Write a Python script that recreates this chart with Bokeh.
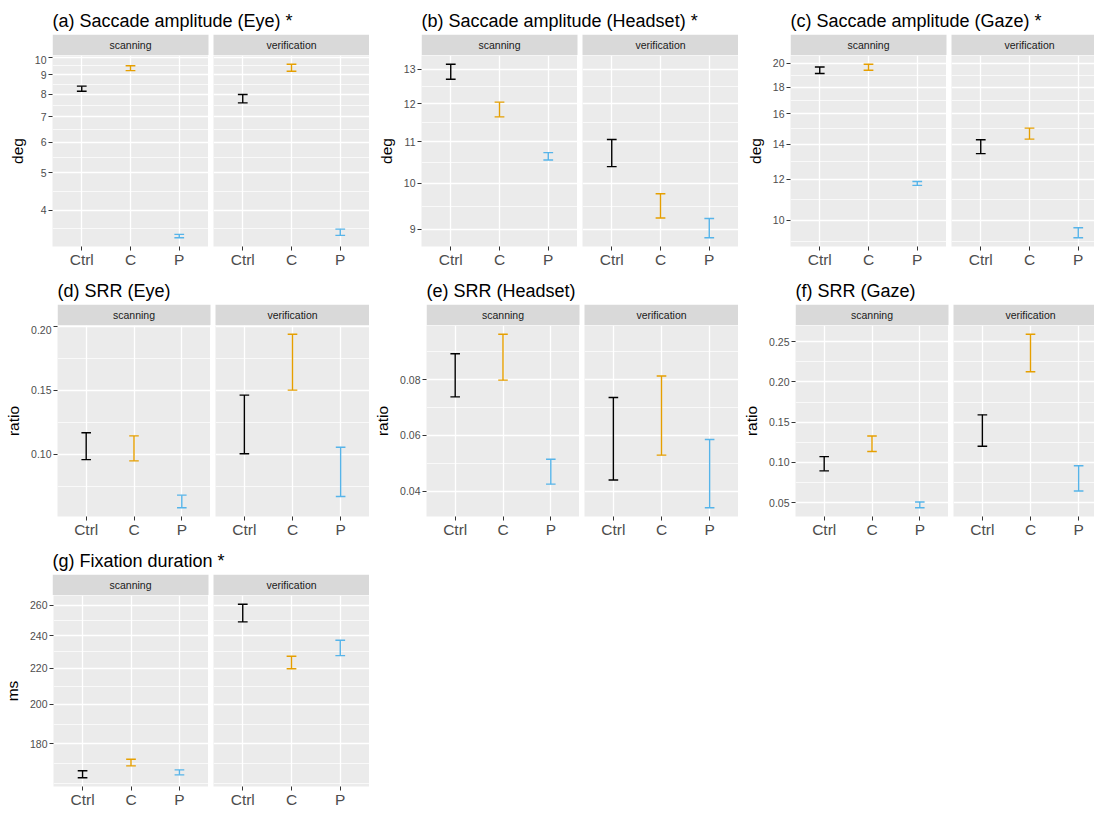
import math
from bokeh.plotting import figure
from bokeh.layouts import column, row
from bokeh.models import Range1d, FixedTicker, BasicTickFormatter
from bokeh.core.properties import value
from bokeh.embed import file_html
from bokeh.resources import INLINE

FONT = "Liberation Sans"

# ---------------- data ----------------
groups = ["Ctrl", "C", "P"]
phases = ["scanning", "verification"]
group_colors = ["#000000", "#E69F00", "#56B4E9"]

# (a) Saccade amplitude (Eye) [deg]
sacc_eye_scan_lo = [8.15, 9.22, 3.39]
sacc_eye_scan_hi = [8.40, 9.49, 3.46]
sacc_eye_ver_lo = [7.60, 9.18, 3.44]
sacc_eye_ver_hi = [7.99, 9.58, 3.57]
sacc_eye_ticks = [4, 5, 6, 7, 8, 9, 10]
sacc_eye_labels = ["4", "5", "6", "7", "8", "9", "10"]

# (b) Saccade amplitude (Headset) [deg]
sacc_head_scan_lo = [12.70, 11.65, 10.55]
sacc_head_scan_hi = [13.15, 12.05, 10.73]
sacc_head_ver_lo = [10.39, 9.23, 8.82]
sacc_head_ver_hi = [11.06, 9.76, 9.22]
sacc_head_ticks = [9, 10, 11, 12, 13]
sacc_head_labels = ["9", "10", "11", "12", "13"]

# (c) Saccade amplitude (Gaze) [deg]
sacc_gaze_scan_lo = [19.11, 19.38, 11.67]
sacc_gaze_scan_hi = [19.66, 19.91, 11.87]
sacc_gaze_ver_lo = [13.42, 14.31, 9.26]
sacc_gaze_ver_hi = [14.27, 15.02, 9.68]
sacc_gaze_ticks = [10, 12, 14, 16, 18, 20]
sacc_gaze_labels = ["10", "12", "14", "16", "18", "20"]

# (d) SRR (Eye) [ratio]
srr_eye_scan_lo = [0.0957, 0.0947, 0.0580]
srr_eye_scan_hi = [0.1167, 0.1142, 0.0679]
srr_eye_ver_lo = [0.1003, 0.1500, 0.0669]
srr_eye_ver_hi = [0.1461, 0.1937, 0.1053]
srr_eye_ticks = [0.10, 0.15, 0.20]
srr_eye_labels = ["0.10", "0.15", "0.20"]

# (e) SRR (Headset) [ratio]
srr_head_scan_lo = [0.0738, 0.0798, 0.0425]
srr_head_scan_hi = [0.0893, 0.0963, 0.0514]
srr_head_ver_lo = [0.0440, 0.0529, 0.0340]
srr_head_ver_hi = [0.0736, 0.0813, 0.0585]
srr_head_ticks = [0.04, 0.06, 0.08]
srr_head_labels = ["0.04", "0.06", "0.08"]

# (f) SRR (Gaze) [ratio]
srr_gaze_scan_lo = [0.0895, 0.1136, 0.0436]
srr_gaze_scan_hi = [0.1072, 0.1329, 0.0508]
srr_gaze_ver_lo = [0.1200, 0.2126, 0.0645]
srr_gaze_ver_hi = [0.1591, 0.2593, 0.0959]
srr_gaze_ticks = [0.05, 0.10, 0.15, 0.20, 0.25]
srr_gaze_labels = ["0.05", "0.10", "0.15", "0.20", "0.25"]

# (g) Fixation duration [ms]
fix_scan_lo = [164.5, 169.8, 165.8]
fix_scan_hi = [167.6, 172.8, 168.0]
fix_ver_lo = [248.9, 219.8, 227.6]
fix_ver_hi = [260.9, 227.2, 237.1]
fix_ticks = [180, 200, 220, 240, 260]
fix_labels = ["180", "200", "220", "240", "260"]

# ---------------- layout constants ----------------
TOP = 34      # title area above strip
STRIP = 21    # strip height
FRAME = 193   # panel height
BOTTOM = 22   # x-axis area
GAP = 5       # gap between facets
FULL = 369    # full width of a panel block
BG = "#EBEBEB"
STRIP_BG = "#D9D9D9"


def minor_breaks(majors_t, lo_t, hi_t):
    b = list(majors_t)
    bd = b[1] - b[0]
    if lo_t < b[0]:
        b = [b[0] - bd] + b
    if hi_t > b[-1]:
        b = b + [b[-1] + bd]
    out = []
    for a, c in zip(b[:-1], b[1:]):
        out += [a, (a + c) / 2]
    out.append(b[-1])
    res = []
    for v in out:
        if lo_t <= v <= hi_t and all(abs(v - m) > 1e-9 for m in majors_t):
            res.append(v)
    return res


def make_panel(title, ylabel, scan_lo, scan_hi, ver_lo, ver_hi, ticks, labels,
               log, block_w, left_w, precision):
    w1 = (FULL - left_w - GAP) // 2
    w2_full = FULL - left_w - GAP - w1
    w2 = block_w - left_w - GAP - w1
    x_end_ver = 0.4 + 3.2 * w2 / w2_full

    if log:
        tf = math.log10
        inv = lambda t: 10 ** t
    else:
        tf = lambda v: v
        inv = lambda t: t
    allv = [tf(v) for v in scan_lo + scan_hi + ver_lo + ver_hi]
    tmin, tmax = min(allv), max(allv)
    r = tmax - tmin
    lo_t, hi_t = tmin - 0.05 * r, tmax + 0.05 * r
    yr = Range1d(inv(lo_t), inv(hi_t))
    minors = [inv(t) for t in minor_breaks([tf(v) for v in ticks], lo_t, hi_t)]
    overrides = {float(t): lab for t, lab in zip(ticks, labels)}

    # header: title + strips
    hdr = figure(width=block_w, height=TOP + STRIP,
                 x_range=Range1d(0, block_w - left_w), y_range=Range1d(0, 1),
                 x_axis_location=None, y_axis_location=None,
                 toolbar_location=None, output_backend="svg",
                 min_border_left=left_w, min_border_right=0,
                 min_border_top=TOP, min_border_bottom=0, title=title)
    hdr.grid.visible = False
    hdr.outline_line_color = None
    hdr.background_fill_color = "white"
    hdr.border_fill_color = "white"
    hdr.title.text_font = FONT
    hdr.title.text_font_size = "18px"
    hdr.title.text_font_style = "normal"
    hdr.title.text_color = "black"
    hdr.title.align = "left"
    hdr.title.offset = 0
    hdr.title.standoff = 7
    hdr.quad(left=[0, w1 + GAP], right=[w1, w1 + GAP + w2_full],
             bottom=[0, 0], top=[1, 1], fill_color=STRIP_BG, line_color=None)
    hdr.text(x=[w1 / 2, w1 + GAP + w2_full / 2], y=[0.5, 0.5], text=phases,
             text_align="center", text_baseline="middle",
             text_font=value(FONT), text_font_size="10.5px", text_color="#1A1A1A")

    xs = list(range(1, len(groups) + 1))
    hw = 0.1

    def facet(lo, hi, x_end, w_frame, left_border, show_y):
        p = figure(width=left_border + w_frame, height=FRAME + BOTTOM,
                   x_range=Range1d(0.4, x_end), y_range=yr,
                   y_axis_type="log" if log else "linear",
                   x_axis_location="below",
                   y_axis_location="left" if show_y else None,
                   toolbar_location=None, output_backend="svg",
                   min_border_left=left_border, min_border_right=0,
                   min_border_top=0, min_border_bottom=BOTTOM)
        p.background_fill_color = BG
        p.border_fill_color = "white"
        p.outline_line_color = None
        # x axis
        p.xaxis.ticker = FixedTicker(ticks=xs)
        p.xaxis.major_label_overrides = {float(x): g for x, g in zip(xs, groups)}
        p.xaxis.major_label_text_font = FONT
        p.xaxis.major_label_text_font_size = "15.5px"
        p.xaxis.major_label_text_color = "#4D4D4D"
        p.xaxis.major_label_standoff = 0
        p.xaxis.major_tick_out = 4
        p.xaxis.major_tick_in = 0
        p.xaxis.major_tick_line_color = "#333333"
        p.xaxis.minor_tick_line_color = None
        p.xaxis.axis_line_color = None
        # y axis
        if show_y:
            p.yaxis.ticker = FixedTicker(ticks=ticks, minor_ticks=minors)
            p.yaxis.formatter = BasicTickFormatter(precision=precision)
            p.yaxis.major_label_overrides = overrides
            p.yaxis.major_label_text_font = FONT
            p.yaxis.major_label_text_font_size = "10.5px"
            p.yaxis.major_label_text_color = "#4D4D4D"
            p.yaxis.major_label_standoff = 2
            p.yaxis.major_tick_out = 4
            p.yaxis.major_tick_in = 0
            p.yaxis.major_tick_line_color = "#333333"
            p.yaxis.minor_tick_line_color = None
            p.yaxis.axis_line_color = None
            p.yaxis.axis_label = ylabel
            p.yaxis.axis_label_text_font = FONT
            p.yaxis.axis_label_text_font_size = "15.5px"
            p.yaxis.axis_label_text_font_style = "normal"
            p.yaxis.axis_label_text_color = "black"
            p.yaxis.axis_label_standoff = 6
        # grids
        p.xgrid.ticker = FixedTicker(ticks=xs)
        p.xgrid.grid_line_color = "white"
        p.xgrid.grid_line_width = 1.3
        p.ygrid.ticker = FixedTicker(ticks=ticks, minor_ticks=minors)
        p.ygrid.grid_line_color = "white"
        p.ygrid.grid_line_width = 1.3
        p.ygrid.minor_grid_line_color = "white"
        p.ygrid.minor_grid_line_width = 0.7
        # error bars
        p.segment(x0=xs, y0=lo, x1=xs, y1=hi, line_color=group_colors, line_width=1.4)
        p.segment(x0=[x - hw for x in xs], y0=hi, x1=[x + hw for x in xs], y1=hi,
                  line_color=group_colors, line_width=1.4)
        p.segment(x0=[x - hw for x in xs], y0=lo, x1=[x + hw for x in xs], y1=lo,
                  line_color=group_colors, line_width=1.4)
        return p

    fs = facet(scan_lo, scan_hi, 3.6, w1, left_w, True)
    fv = facet(ver_lo, ver_hi, x_end_ver, w2, GAP, False)
    return column(hdr, row(fs, fv, spacing=0), spacing=0)


pa = make_panel("(a) Saccade amplitude (Eye) *", "deg",
                sacc_eye_scan_lo, sacc_eye_scan_hi, sacc_eye_ver_lo, sacc_eye_ver_hi,
                sacc_eye_ticks, sacc_eye_labels, True, 369, 52, 0)
pb = make_panel("(b) Saccade amplitude (Headset) *", "deg",
                sacc_head_scan_lo, sacc_head_scan_hi, sacc_head_ver_lo, sacc_head_ver_hi,
                sacc_head_ticks, sacc_head_labels, True, 369, 52, 0)
pc = make_panel("(c) Saccade amplitude (Gaze) *", "deg",
                sacc_gaze_scan_lo, sacc_gaze_scan_hi, sacc_gaze_ver_lo, sacc_gaze_ver_hi,
                sacc_gaze_ticks, sacc_gaze_labels, True, 356, 52, 0)
pd_ = make_panel("(d) SRR (Eye)", "ratio",
                 srr_eye_scan_lo, srr_eye_scan_hi, srr_eye_ver_lo, srr_eye_ver_hi,
                 srr_eye_ticks, srr_eye_labels, False, 369, 57, 2)
pe = make_panel("(e) SRR (Headset)", "ratio",
                srr_head_scan_lo, srr_head_scan_hi, srr_head_ver_lo, srr_head_ver_hi,
                srr_head_ticks, srr_head_labels, False, 369, 57, 2)
pf = make_panel("(f) SRR (Gaze)", "ratio",
                srr_gaze_scan_lo, srr_gaze_scan_hi, srr_gaze_ver_lo, srr_gaze_ver_hi,
                srr_gaze_ticks, srr_gaze_labels, False, 356, 57, 2)
pg = make_panel("(g) Fixation duration *", "ms",
                fix_scan_lo, fix_scan_hi, fix_ver_lo, fix_ver_hi,
                fix_ticks, fix_labels, True, 369, 52, 0)

layout = column(row(pa, pb, pc, spacing=0),
                row(pd_, pe, pf, spacing=0),
                row(pg, spacing=0), spacing=0)

open("out.html", "w").write(file_html(layout, INLINE, title="Eye movement metrics"))
